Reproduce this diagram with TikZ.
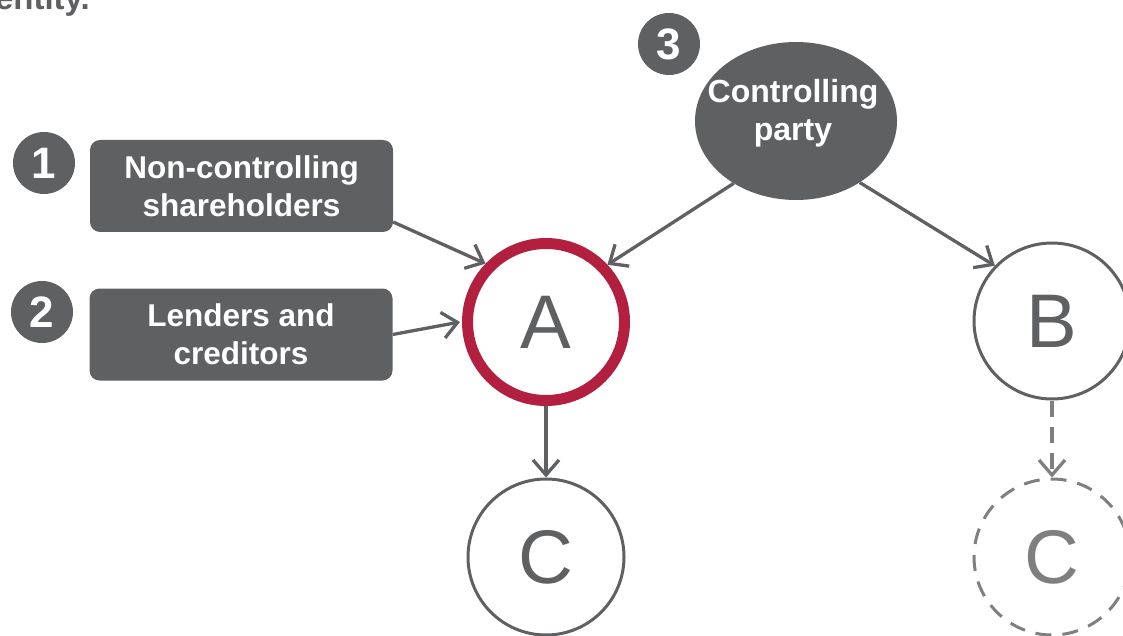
\documentclass[tikz,border=0pt]{standalone}
\usepackage{fontspec}
\setmainfont{Liberation Sans}
\usetikzlibrary{arrows.meta,shapes.geometric}
\definecolor{dg}{HTML}{5F6062}
\definecolor{lg}{HTML}{7F7F7F}
\definecolor{rd}{HTML}{B21F3F}
\begin{document}
\begin{tikzpicture}[x=1pt,y=-1pt,
  box/.style={fill=dg, rounded corners=10pt, minimum width=303pt, minimum height=92pt, text=white,
    font=\fontsize{31.5}{38}\selectfont\bfseries, align=center, inner sep=0pt},
  ent/.style={circle, draw=dg, line width=3pt, minimum size=156pt, inner sep=0pt, text=dg,
    font=\fontsize{76}{80}\selectfont},
  badge/.style={circle, fill=dg, minimum size=62pt, inner sep=0pt, text=white,
    font=\fontsize{44}{44}\selectfont\bfseries},
  arr/.style={draw=dg, line width=3.3pt, -{Straight Barb[length=15pt,width=26pt]}},
]
\useasboundingbox (0,0) rectangle (1123,636);
% clipped heading remnant
\node[anchor=base east, text=dg, font=\fontsize{33}{33}\selectfont\bfseries, inner sep=0pt] (hdr) at (90,10) {entity.};
% entities
\node[ent, draw=rd, line width=11pt, minimum size=157pt] (A) at (546,322) {A};
\node[ent] (C) at (546,557) {C};
\node[ent] (B) at (1052,321) {B};
\node[ent, draw=lg, text=lg, dash pattern=on 16pt off 11pt] (C2) at (1052,557) {C};
\node[ellipse, fill=dg, minimum width=202pt, minimum height=158pt, inner sep=0pt] (P) at (796,121) {};
\node[text=white, font=\fontsize{32}{38}\selectfont\bfseries, align=center, inner sep=0pt] (Pt) at (793,113) {Controlling\\party};
% boxes
\node[box] (b1) at (241.5,186) {Non-controlling\\shareholders};
\node[box] (b2) at (241,334.5) {Lenders and\\creditors};
% badges
\node[badge] (n1) at (44,163) {1};
\node[badge] (n2) at (42,312) {2};
\node[badge] (n3) at (669,44) {3};
% arrows
\draw[arr] ([yshift=-36pt]b1.east) -- (A.136);
\draw[arr] (b2.east) -- ([xshift=-2pt]A.west);
\draw[arr] (P.225) -- (A.43);
\draw[arr] (P.-44) -- (B.136);
\draw[arr] (A.south) -- (C.north);
\draw[arr, draw=lg, dash pattern=on 16pt off 10pt] (B.south) -- (C2.north);
\end{tikzpicture}
\end{document}
